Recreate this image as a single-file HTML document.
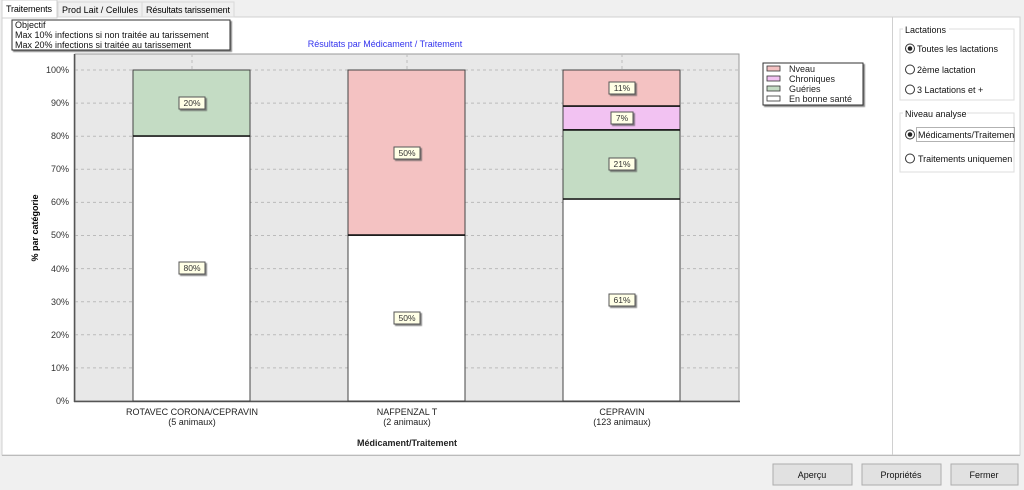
<!DOCTYPE html>
<html><head><meta charset="utf-8"><style>
html,body{margin:0;padding:0;background:#f0f0f0;}
svg{display:block;font-family:"Liberation Sans",sans-serif;}
</style></head><body>
<svg width="1024" height="490" viewBox="0 0 1024 490" xmlns="http://www.w3.org/2000/svg">
<defs><filter id="sh" x="-20%" y="-20%" width="160%" height="160%"><feDropShadow dx="1.5" dy="1.5" stdDeviation="0.6" flood-color="#555" flood-opacity="0.7"/></filter></defs>
<rect width="1024" height="490" fill="#f0f0f0"/>
<rect x="2" y="17" width="1018" height="438" fill="#fff" stroke="#d0d0d0"/>
<line x1="2" y1="455.5" x2="1020" y2="455.5" stroke="#bbb"/>
<line x1="892.5" y1="17" x2="892.5" y2="455" stroke="#d0d0d0"/>
<rect x="2" y="0" width="55" height="18" fill="#fff" stroke="#d0d0d0"/>
<text x="6" y="12" font-size="9" fill="#000" textLength="46">Traitements</text>
<rect x="58" y="2" width="84" height="15" fill="#f0f0f0" stroke="#d9d9d9"/>
<text x="62" y="13" font-size="9" textLength="76">Prod Lait / Cellules</text>
<rect x="142" y="2" width="92" height="15" fill="#f0f0f0" stroke="#d9d9d9"/>
<text x="146" y="13" font-size="9" textLength="84">Résultats tarissement</text>
<rect x="12" y="20" width="218" height="30" fill="#fff" stroke="#333" filter="url(#sh)"/>
<text font-size="9" fill="#111"><tspan x="15" y="28">Objectif</tspan><tspan x="15" y="38">Max 10% infections si non traitée au tarissement</tspan><tspan x="15" y="48">Max 20% infections si traitée au tarissement</tspan></text>
<text x="385" y="47" font-size="9" fill="#3333ee" text-anchor="middle">Résultats par Médicament / Traitement</text>
<rect x="75" y="54" width="664" height="347" fill="#e8e8e8" stroke="#999"/>
<g stroke="#bbb" stroke-dasharray="3,3">
<line x1="75" y1="70" x2="739" y2="70"/><line x1="75" y1="103.1" x2="739" y2="103.1"/><line x1="75" y1="136.2" x2="739" y2="136.2"/><line x1="75" y1="169.3" x2="739" y2="169.3"/><line x1="75" y1="202.4" x2="739" y2="202.4"/><line x1="75" y1="235.5" x2="739" y2="235.5"/><line x1="75" y1="268.6" x2="739" y2="268.6"/><line x1="75" y1="301.7" x2="739" y2="301.7"/><line x1="75" y1="334.8" x2="739" y2="334.8"/><line x1="75" y1="367.9" x2="739" y2="367.9"/>
<line x1="192" y1="54" x2="192" y2="401"/><line x1="407" y1="54" x2="407" y2="401"/><line x1="622" y1="54" x2="622" y2="401"/>
</g>
<line x1="74.5" y1="54" x2="74.5" y2="402" stroke="#555" stroke-width="1.5"/>
<line x1="74" y1="401.5" x2="740" y2="401.5" stroke="#555" stroke-width="1.5"/>
<g font-size="9" fill="#333" text-anchor="end">
<text x="69" y="73">100%</text><text x="69" y="106">90%</text><text x="69" y="139">80%</text><text x="69" y="172">70%</text><text x="69" y="205">60%</text><text x="69" y="238">50%</text><text x="69" y="272">40%</text><text x="69" y="305">30%</text><text x="69" y="338">20%</text><text x="69" y="371">10%</text><text x="69" y="404">0%</text>
</g>
<text transform="translate(38,228) rotate(-90)" font-size="9" font-weight="bold" text-anchor="middle">% par catégorie</text>
<g stroke="#444">
<rect x="133" y="70" width="117" height="66.2" fill="#c4dcc4"/>
<rect x="133" y="136.2" width="117" height="264.8" fill="#fff"/>
<rect x="348" y="70" width="117" height="165.5" fill="#f4c2c2"/>
<rect x="348" y="235.5" width="117" height="165.5" fill="#fff"/>
<rect x="563" y="70" width="117" height="36.4" fill="#f4c2c2"/>
<rect x="563" y="106.4" width="117" height="23.2" fill="#f2c2f2"/>
<rect x="563" y="129.6" width="117" height="69.5" fill="#c4dcc4"/>
<rect x="563" y="199.1" width="117" height="201.9" fill="#fff"/>
</g>
<g stroke="#111" stroke-width="1.5"><line x1="133" y1="136" x2="250" y2="136"/><line x1="348" y1="235" x2="465" y2="235"/><line x1="563" y1="106" x2="680" y2="106"/><line x1="563" y1="130" x2="680" y2="130"/><line x1="563" y1="199" x2="680" y2="199"/></g>
<g font-size="8.5" text-anchor="middle" fill="#333">
<g filter="url(#sh)" fill="#ffffe6" stroke="#555">
<rect x="179" y="97" width="26" height="12"/><rect x="179" y="262" width="26" height="12"/>
<rect x="394" y="147" width="26" height="12"/><rect x="394" y="312" width="26" height="12"/>
<rect x="609" y="82" width="26" height="12"/><rect x="611" y="112" width="22" height="12"/><rect x="609" y="158" width="26" height="12"/><rect x="609" y="294" width="26" height="12"/>
</g>
<text x="192" y="106">20%</text><text x="192" y="271">80%</text>
<text x="407" y="156">50%</text><text x="407" y="321">50%</text>
<text x="622" y="91">11%</text><text x="622" y="121">7%</text><text x="622" y="167">21%</text><text x="622" y="303">61%</text>
</g>
<g font-size="9" text-anchor="middle" fill="#222">
<text x="192" y="415">ROTAVEC CORONA/CEPRAVIN</text><text x="192" y="425">(5 animaux)</text>
<text x="407" y="415">NAFPENZAL T</text><text x="407" y="425">(2 animaux)</text>
<text x="622" y="415">CEPRAVIN</text><text x="622" y="425">(123 animaux)</text>
<text x="407" y="446" font-weight="bold">Médicament/Traitement</text>
</g>
<rect x="763" y="63" width="100" height="42" fill="#fff" stroke="#333" filter="url(#sh)"/>
<g stroke="#333" stroke-width="0.8"><rect x="767" y="66" width="13" height="5" fill="#f4c2c2"/><rect x="767" y="76" width="13" height="5" fill="#f2c2f2"/><rect x="767" y="86" width="13" height="5" fill="#c4dcc4"/><rect x="767" y="96" width="13" height="5" fill="#fff"/></g>
<g font-size="9" fill="#222"><text x="789" y="72">Nveau</text><text x="789" y="82">Chroniques</text><text x="789" y="92">Guéries</text><text x="789" y="102">En bonne santé</text></g>
<g fill="none" stroke="#ddd"><rect x="900" y="29" width="114" height="71"/><rect x="900" y="113" width="114" height="59"/></g>
<rect x="903" y="24" width="46" height="10" fill="#fff"/><rect x="903" y="108" width="64" height="10" fill="#fff"/>
<g font-size="9" fill="#111">
<text x="905" y="33">Lactations</text><text x="905" y="117">Niveau analyse</text>
<text x="917" y="52">Toutes les lactations</text><text x="917" y="73">2ème lactation</text><text x="917" y="93">3 Lactations et +</text>
<text x="918" y="138">Médicaments/Traitemen</text><text x="918" y="162">Traitements uniquemen</text>
</g>
<g fill="#fff" stroke="#333"><circle cx="910" cy="48.5" r="4.5"/><circle cx="910" cy="69.5" r="4.5"/><circle cx="910" cy="89.5" r="4.5"/><circle cx="910" cy="134.5" r="4.5"/><circle cx="910" cy="158.5" r="4.5"/></g>
<circle cx="910" cy="48.5" r="2.3" fill="#222"/><circle cx="910" cy="134.5" r="2.3" fill="#222"/>
<rect x="916.5" y="127.5" width="98" height="14" fill="none" stroke="#666" stroke-dasharray="1,1"/>
<g fill="#e1e1e1" stroke="#adadad"><rect x="773" y="464" width="79" height="21"/><rect x="862" y="464" width="79" height="21"/><rect x="951" y="464" width="67" height="21"/></g>
<g font-size="9" text-anchor="middle" fill="#111"><text x="812" y="478">Aperçu</text><text x="901" y="478">Propriétés</text><text x="984" y="478">Fermer</text></g>
</svg>
</body></html>
